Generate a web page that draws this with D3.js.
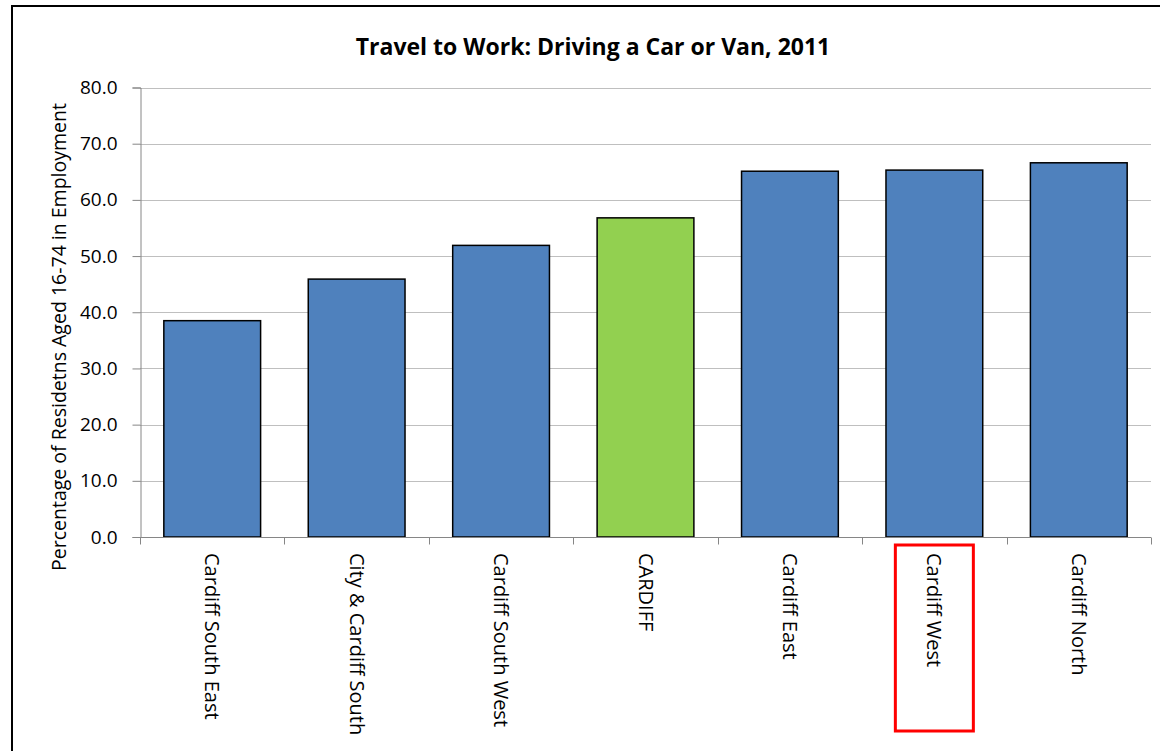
<!DOCTYPE html>
<html><head><meta charset="utf-8">
<script src="https://cdn.jsdelivr.net/npm/d3@7"></script>
<style>
html,body{margin:0;padding:0;background:#fff;}
svg{display:block;}
</style></head>
<body>
<svg id="chart" width="1160" height="751"></svg>
<script>
const categories = ["Cardiff South East","City & Cardiff South","Cardiff South West","CARDIFF","Cardiff East","Cardiff West","Cardiff North"];
const values = [38.5, 45.9, 51.9, 56.8, 65.1, 65.3, 66.6];
const highlight = ["CARDIFF"];
const boxed = ["Cardiff West"];
const yTicks = [0,10,20,30,40,50,60,70,80];
const title = "Travel to Work: Driving a Car or Van, 2011";
const yLabel = "Percentage of Residetns Aged 16-74 in Employment";

const FONT = "'Open Sans', 'Noto Sans', sans-serif";
const svg = d3.select("#chart");
const m = {left:140, right:1151, top:87.5, bottom:537};

// outer border
svg.append("rect").attr("x",12).attr("y",6).attr("width",1160).attr("height",760)
  .attr("fill","#fff").attr("stroke","#000").attr("stroke-width",2);

const x = d3.scaleBand().domain(categories).range([m.left,m.right]).paddingInner(0.33).paddingOuter(0.165);
const xb = d3.scaleBand().domain(categories).range([m.left,m.right]);
const y = d3.scaleLinear().domain([0,80]).range([m.bottom,m.top]);

// gridlines
svg.append("g").selectAll("line").data(yTicks.filter(d=>d>0)).join("line")
  .attr("x1",m.left).attr("x2",m.right)
  .attr("y1",d=>Math.round(y(d))+0.5).attr("y2",d=>Math.round(y(d))+0.5)
  .attr("stroke","#bfbfbf").attr("stroke-width",1);

// y axis
const yAxis = svg.append("g").attr("transform",`translate(${m.left+0.5},0)`)
  .call(d3.axisLeft(y).tickValues(yTicks).tickFormat(d3.format(".1f")).tickSize(8).tickPadding(15));
yAxis.select(".domain").attr("stroke","#868686");
yAxis.selectAll(".tick line").attr("stroke","#868686");
yAxis.selectAll(".tick text").attr("font-family",FONT).attr("font-size",19).attr("fill","#000");

// bars
svg.append("g").selectAll("rect").data(categories).join("rect")
  .attr("x",d=>x(d)).attr("width",x.bandwidth())
  .attr("y",(d,i)=>y(values[i])).attr("height",(d,i)=>y(0)-y(values[i]))
  .attr("fill",d=>highlight.includes(d)?"#92D050":"#4F81BD")
  .attr("stroke","#000").attr("stroke-width",1.5);

// x axis
const xAxisG = svg.append("g").attr("transform",`translate(0,${Math.round(m.bottom)+0.5})`);
xAxisG.append("line").attr("x1",m.left).attr("x2",m.right).attr("stroke","#868686");
const bounds = categories.map(c=>xb(c)).concat([m.right]);
xAxisG.selectAll("line.tk").data(bounds).join("line").attr("class","tk")
  .attr("x1",d=>Math.round(d)+0.5).attr("x2",d=>Math.round(d)+0.5).attr("y1",0).attr("y2",7)
  .attr("stroke","#868686");

// category labels
svg.append("g").selectAll("text").data(categories).join("text")
  .attr("transform",d=>`translate(${xb(d)+xb.bandwidth()/2},553) rotate(90)`)
  .attr("dy","0.35em").attr("text-anchor","start")
  .attr("font-family",FONT).attr("font-size",20).attr("fill","#000")
  .text(d=>d);

// red highlight box
svg.append("g").selectAll("rect").data(boxed).join("rect")
  .attr("x",d=>xb(d)+xb.bandwidth()/2-39).attr("y",545).attr("width",78).attr("height",186)
  .attr("fill","none").attr("stroke","#ff0000").attr("stroke-width",3);

// title
svg.append("text").attr("x",593).attr("y",55).attr("text-anchor","middle")
  .attr("font-family",FONT).attr("font-weight","bold").attr("font-size",23).attr("fill","#000")
  .text(title);

// y label
svg.append("text").attr("transform",`translate(66,337) rotate(-90)`)
  .attr("text-anchor","middle").attr("font-family",FONT).attr("font-size",19.5).attr("fill","#000")
  .text(yLabel);
</script>
</body></html>
